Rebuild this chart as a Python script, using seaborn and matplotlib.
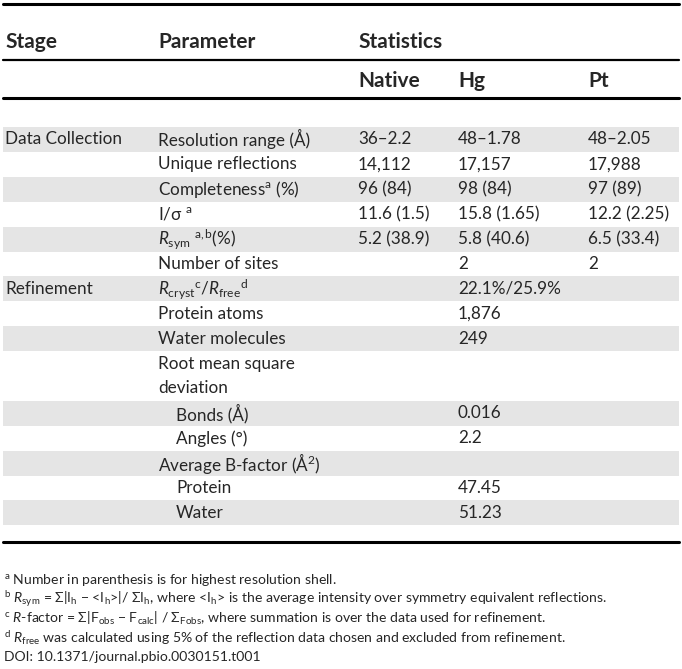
import matplotlib
matplotlib.use("Agg")
import matplotlib.pyplot as plt
import seaborn as sns

sns.set_theme(style="white")
plt.rcParams['font.family'] = ['Lato', 'DejaVu Sans']
plt.rcParams['mathtext.fontset'] = 'custom'
plt.rcParams['mathtext.rm'] = 'Lato'
plt.rcParams['mathtext.it'] = 'Lato:italic'
plt.rcParams['mathtext.bf'] = 'Lato:bold'

# table content
headers = ['Stage', 'Parameter', 'Statistics']
subheaders = ['Native', 'Hg', 'Pt']
stages = ['Data Collection', '', '', '', '', '', 'Refinement', '', '', '', '', '', '', '', '']
params = ['Resolution range (Å)', 'Unique reflections', 'Completeness$^{\\rm a}$ (%)',
          'I/σ $^{\\rm a}$', '$R_{\\rm sym}$ $^{\\rm a,b}$(%)', 'Number of sites',
          '$R_{\\rm cryst}$$^{\\rm c}$/$R_{\\rm free}$$^{\\rm d}$', 'Protein atoms',
          'Water molecules', 'Root mean square\ndeviation', 'Bonds (Å)', 'Angles (°)',
          'Average B-factor (Å$^{2}$)', 'Protein', 'Water']
indented = [False] * 10 + [True, True, False, True, True]
native = ['36–2.2', '14,112', '96 (84)', '11.6 (1.5)', '5.2 (38.9)', '', '', '', '', '', '', '', '', '', '']
hg = ['48–1.78', '17,157', '98 (84)', '15.8 (1.65)', '5.8 (40.6)', '2', '22.1%/25.9%',
      '1,876', '249', '', '0.016', '2.2', '', '47.45', '51.23']
pt = ['48–2.05', '17,988', '97 (89)', '12.2 (2.25)', '6.5 (33.4)', '2', '', '', '', '', '', '', '', '', '']
row_units = [1] * 9 + [2] + [1] * 5

footnotes = [
    '$^{\\rm a}$ Number in parenthesis is for highest resolution shell.',
    '$^{\\rm b}$ $R_{\\rm sym}$ = Σ|I$_{\\rm h}$ − <I$_{\\rm h}$>|/ ΣI$_{\\rm h}$, where <I$_{\\rm h}$> '
    'is the average intensity over symmetry equivalent reflections.',
    '$^{\\rm c}$ $R$-factor = Σ|F$_{\\rm obs}$ − F$_{\\rm calc}$| / Σ$_{\\rm Fobs}$, '
    'where summation is over the data used for refinement.',
    '$^{\\rm d}$ $R_{\\rm free}$ was calculated using 5% of the reflection data chosen '
    'and excluded from refinement.',
    'DOI: 10.1371/journal.pbio.0030151.t001',
]

fig = plt.figure(figsize=(6.82, 6.69), dpi=100)
ax = fig.add_axes([0, 0, 1, 1])
ax.set_xlim(0, 682)
ax.set_ylim(669, 0)
ax.axis('off')

col_x = [5, 158, 358, 458, 588]
shade = '#e5e5e5'
body_fs = 12.3
head_fs = 15

# rules
ax.plot([3, 679], [4, 4], color='black', lw=2.2)
ax.plot([3, 679], [60, 60], color='black', lw=1.6)
ax.plot([3, 679], [98, 98], color='black', lw=2.2)
ax.plot([3, 679], [542, 542], color='black', lw=2.2)

# header rows
for x, h in zip(col_x[:3], headers):
    ax.text(x, 42, h, fontsize=head_fs, fontweight='bold', va='center', ha='left')
for x, h in zip(col_x[2:], subheaders):
    ax.text(x, 81, h, fontsize=head_fs, fontweight='bold', va='center', ha='left')

# body rows
row_h = 24.9
top = 127
for i in range(len(params)):
    height = row_h * row_units[i]
    if i % 2 == 0:
        ax.axhspan(top + height, top, xmin=3 / 682, xmax=679 / 682, color=shade, lw=0)
    if row_units[i] == 1:
        yc = top + height / 2
        ax.text(col_x[1] + (18 if indented[i] else 0), yc, params[i],
                fontsize=body_fs, va='center', ha='left')
    else:
        for j, line in enumerate(params[i].split('\n')):
            ax.text(col_x[1], top + row_h * (j + 0.5), line,
                    fontsize=body_fs, va='center', ha='left')
    yc = top + row_h / 2
    ax.text(col_x[0], yc, stages[i], fontsize=body_fs, va='center', ha='left')
    for x, v in zip(col_x[2:], [native[i], hg[i], pt[i]]):
        ax.text(x, yc, v, fontsize=body_fs, va='center', ha='left')
    top += height

# footnotes
for k, note in enumerate(footnotes):
    ax.text(4, 580 + k * 19.3, note, fontsize=10.1, va='center', ha='left')

fig.savefig('out.png', dpi=100, facecolor='white')
